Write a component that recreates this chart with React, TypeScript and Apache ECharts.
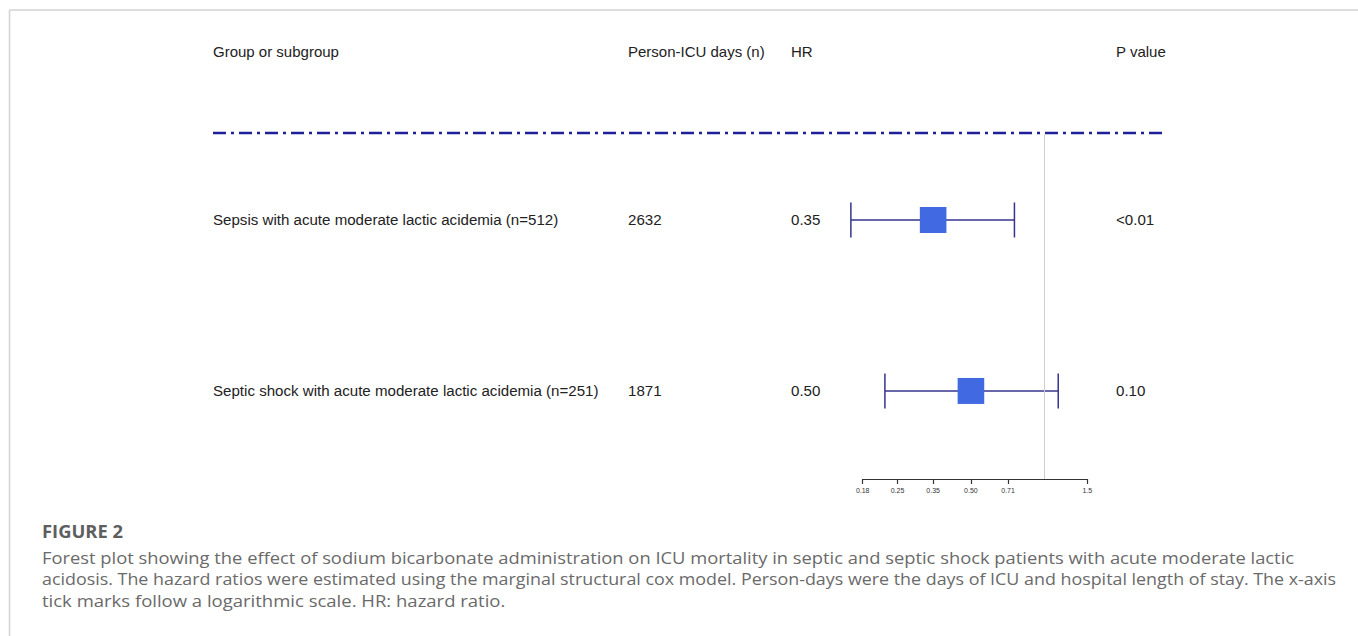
import React, { useEffect, useRef } from "react";
import * as echarts from "echarts";

// ---- data ----
const subgroups = [
  "Sepsis with acute moderate lactic acidemia (n=512)",
  "Septic shock with acute moderate lactic acidemia (n=251)",
];
const personDays = ["2632", "1871"];
const hrLabels = ["0.35", "0.50"];
const hrValues = [0.35, 0.5];
const ciLower = [0.161, 0.222];
const ciUpper = [0.754, 1.14];
const pValues = ["<0.01", "0.10"];
const headers = ["Group or subgroup", "Person-ICU days (n)", "HR", "P value"];
const tickValues = [0.18, 0.25, 0.35, 0.5, 0.71, 1.5];
const tickLabels = ["0.18", "0.25", "0.35", "0.50", "0.71", "1.5"];
const referenceHR = 1;
const captionTitle = "FIGURE 2";
const captionLines = [
  "Forest plot showing the effect of sodium bicarbonate administration on ICU mortality in septic and septic shock patients with acute moderate lactic",
  "acidosis. The hazard ratios were estimated using the marginal structural cox model. Person-days were the days of ICU and hospital length of stay. The x-axis",
  "tick marks follow a logarithmic scale. HR: hazard ratio.",
];
// target rendered widths of the caption lines (layout)
const captionWidths = [1253, 1295, 464];

const COLS = [213, 628, 791, 1116];
const TEXT_FONT = '"Liberation Sans", Arial, sans-serif';
const CAP_FONT = '"Open Sans", "Noto Sans", sans-serif';
const CAP_SIZE = 16.5;

function measure(text: string, font: string): number {
  const c = document.createElement("canvas");
  const ctx = c.getContext("2d");
  if (!ctx) return 0;
  ctx.font = font;
  return ctx.measureText(text).width;
}

export default function App() {
  const ref = useRef<HTMLDivElement>(null);
  useEffect(() => {
    if (!ref.current) return;
    const chart = echarts.init(ref.current, undefined, { renderer: "svg" });
    const rows = subgroups.map((_, i) => [hrValues[i], i + 1, ciLower[i], ciUpper[i], i]);

    const graphics: any[] = [
      { type: "line", shape: { x1: 9.5, y1: 10, x2: 1358, y2: 10 }, style: { stroke: "#d2d2d2", lineWidth: 1.5 } },
      { type: "line", shape: { x1: 9.5, y1: 10, x2: 9.5, y2: 636 }, style: { stroke: "#d2d2d2", lineWidth: 1.5 } },
      {
        type: "line",
        shape: { x1: 213, y1: 133, x2: 1167, y2: 133 },
        style: { stroke: "#1f1f9a", lineWidth: 2.5, lineDash: [13, 5, 3, 5] },
      },
      ...headers.map((h, i) => ({
        type: "text",
        x: COLS[i],
        y: 51,
        style: { text: h, fill: "#222", fontSize: 15, fontFamily: TEXT_FONT, verticalAlign: "middle", align: "left" },
      })),
      {
        type: "text",
        x: 42,
        y: 531,
        scaleX: 1.05,
        style: { text: captionTitle, fill: "#5e5e5e", fontSize: 17.5, fontWeight: "bold", fontFamily: CAP_FONT, verticalAlign: "middle" },
      },
      ...captionLines.map((t, i) => {
        const w = measure(t, `${CAP_SIZE}px "Open Sans"`);
        const sx = w > 0 ? Math.min(1.2, captionWidths[i] / w) : 1.1;
        return {
          type: "text",
          x: 42,
          y: 557 + i * 21.5,
          scaleX: sx,
          style: { text: t, fill: "#6a6a6a", fontSize: CAP_SIZE, fontFamily: CAP_FONT, verticalAlign: "middle" },
        };
      }),
    ];

    chart.setOption({
      animation: false,
      grid: { left: 862.7, width: 224.6, top: 134.5, height: 344.5, containLabel: false },
      xAxis: {
        type: "log",
        min: 0.18,
        max: 1.5,
        splitLine: { show: false },
        axisLine: { show: true, onZero: false, lineStyle: { color: "#333", width: 1.2 } },
        axisTick: { show: true, length: 5, customValues: tickValues, lineStyle: { color: "#333", width: 1.2 } },
        axisLabel: {
          customValues: tickValues,
          fontSize: 7,
          color: "#333",
          margin: 8,
          fontFamily: TEXT_FONT,
          formatter: (v: number) => {
            const k = tickValues.findIndex((t) => Math.abs(t - v) < 1e-6);
            return k >= 0 ? tickLabels[k] : "";
          },
        },
      },
      yAxis: { type: "value", min: 0.5, max: 2.515, inverse: true, show: false },
      graphic: graphics,
      series: [
        {
          type: "custom",
          clip: false,
          data: rows,
          encode: { x: 0, y: 1 },
          renderItem: (params: any, api: any) => {
            const y = api.value(1);
            const idx = api.value(4);
            const pc = api.coord([api.value(0), y]);
            const pl = api.coord([api.value(2), y]);
            const ph = api.coord([api.value(3), y]);
            const cy = pc[1];
            const lineStyle = { stroke: "#34348c", lineWidth: 1.5 };
            const txt = (t: string, x: number) => ({
              type: "text",
              x,
              y: cy,
              style: { text: t, fill: "#222", fontSize: 15.1, fontFamily: TEXT_FONT, verticalAlign: "middle", align: "left" },
            });
            return {
              type: "group",
              children: [
                { type: "line", shape: { x1: pl[0], y1: cy, x2: ph[0], y2: cy }, style: lineStyle },
                { type: "line", shape: { x1: pl[0], y1: cy - 17.5, x2: pl[0], y2: cy + 17.5 }, style: lineStyle },
                { type: "line", shape: { x1: ph[0], y1: cy - 17.5, x2: ph[0], y2: cy + 17.5 }, style: lineStyle },
                { type: "rect", shape: { x: pc[0] - 13.3, y: cy - 13, width: 26.6, height: 26 }, style: { fill: "#4169E1" } },
                txt(subgroups[idx], COLS[0]),
                txt(personDays[idx], COLS[1]),
                txt(hrLabels[idx], COLS[2]),
                txt(pValues[idx], COLS[3]),
              ],
            };
          },
          markLine: {
            silent: true,
            symbol: "none",
            label: { show: false },
            lineStyle: { color: "#cccccc", type: "solid", width: 1 },
            data: [{ xAxis: referenceHR }],
          },
          z: 3,
        },
      ],
    });
    return () => chart.dispose();
  }, []);
  return <div ref={ref} style={{ position: "absolute", left: 0, top: 0, width: 1358, height: 636 }} />;
}
